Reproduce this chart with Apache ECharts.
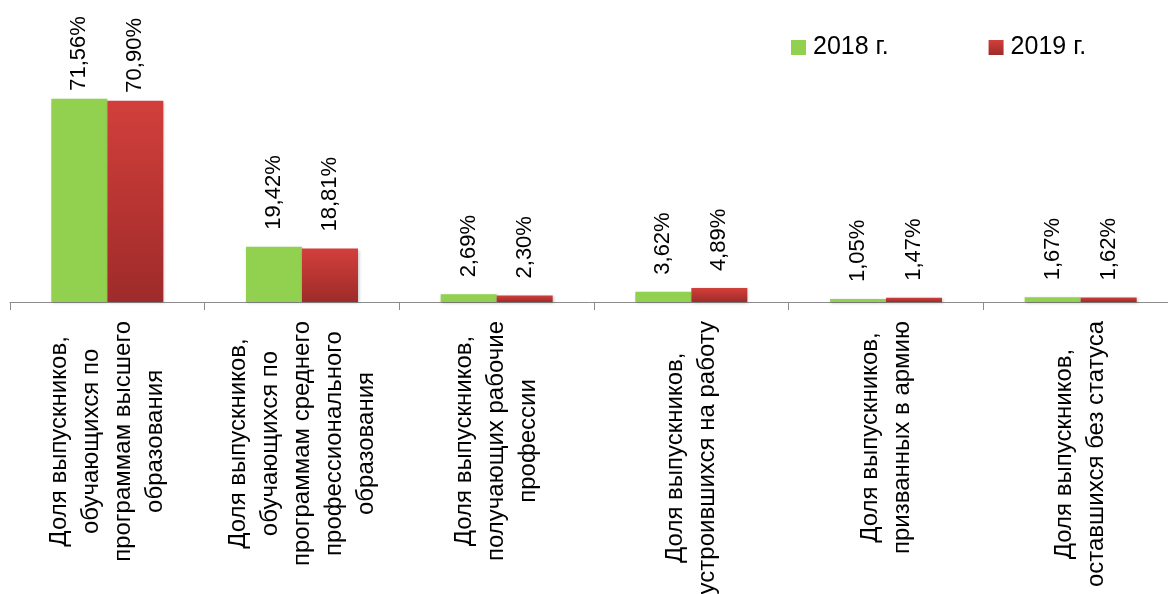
<!DOCTYPE html>
<html>
<head>
<meta charset="utf-8">
<script src="https://cdn.jsdelivr.net/npm/echarts@6/dist/echarts.min.js"></script>
<style>
    html, body { margin: 0; padding: 0; background: #fff; }
    #chart { width: 1168px; height: 594px; }
</style>
</head>
<body>
<div id="chart"></div>
<script>
    // данные
    var categories = [
        'Доля выпускников,\nобучающихся по\nпрограммам высшего\nобразования',
        'Доля выпускников,\nобучающихся по\nпрограммам среднего\nпрофессионального\nобразования',
        'Доля выпускников,\nполучающих рабочие\nпрофессии',
        'Доля выпускников,\nустроившихся на работу',
        'Доля выпускников,\nпризванных в армию',
        'Доля выпускников,\nоставшихся без статуса'
    ]
    var values2018 = [71.56, 19.42, 2.69, 3.62, 1.05, 1.67]
    var values2019 = [70.90, 18.81, 2.30, 4.89, 1.47, 1.62]
    var seriesNames = ['2018 г.', '2019 г.']

    var font = '"Liberation Sans", Arial, sans-serif'

    function pct(p) {
        return p.value.toFixed(2).replace('.', ',') + '%'
    }

    // первая группа упирается в верх, подпись ближе к столбцу
    function withLabels(arr) {
        return arr.map(function (v, i) {
            return i === 0 ? { value: v, label: { distance: 8 } } : v
        })
    }

    var myChart = echarts.init(document.getElementById('chart'))

    var barLabel = {
        show: true,
        position: 'top',
        rotate: 90,
        align: 'left',
        verticalAlign: 'middle',
        distance: 17,
        fontSize: 22,
        fontFamily: font,
        color: '#000',
        formatter: pct
    }

    var option = {
        animation: false,
        legend: {
            left: 791,
            top: 35,
            padding: 0,
            itemWidth: 15,
            itemHeight: 15,
            itemGap: 100,
            icon: 'rect',
            textStyle: { fontSize: 25, fontFamily: font, color: '#000', padding: [0, 0, 0, 2] },
            data: seriesNames
        },
        grid: { left: 10, width: 1168, top: 18, bottom: 292, outerBoundsMode: 'none' },
        xAxis: {
            type: 'category',
            data: categories,
            axisLine: { lineStyle: { color: '#8c8c8c', width: 1 } },
            axisTick: { show: true, length: 8, lineStyle: { color: '#8c8c8c' } },
            axisLabel: {
                interval: 0,
                rotate: 90,
                margin: 19,
                formatter: function (v) {
                    return v.split('\n').map(function (s) { return '{c|' + s + '}' }).join('\n')
                },
                rich: {
                    c: { align: 'center', fontSize: 24, lineHeight: 32, fontFamily: font, color: '#000' }
                }
            }
        },
        yAxis: {
            type: 'value',
            min: 0,
            max: 100,
            show: false,
            splitLine: { show: false }
        },
        series: [
            {
                name: seriesNames[0],
                type: 'bar',
                barWidth: 56,
                barGap: '0%',
                data: withLabels(values2018),
                itemStyle: {
                    color: '#92d050',
                    shadowBlur: 3,
                    shadowColor: 'rgba(0,0,0,0.25)',
                    shadowOffsetX: 1,
                    shadowOffsetY: 1
                },
                label: barLabel
            },
            {
                name: seriesNames[1],
                type: 'bar',
                barWidth: 56,
                barGap: '0%',
                data: withLabels(values2019),
                itemStyle: {
                    color: new echarts.graphic.LinearGradient(0, 0, 0, 1, [
                        { offset: 0, color: '#d23f3b' },
                        { offset: 1, color: '#9e2b2a' }
                    ]),
                    shadowBlur: 3,
                    shadowColor: 'rgba(0,0,0,0.25)',
                    shadowOffsetX: 1,
                    shadowOffsetY: 1
                },
                label: barLabel
            }
        ]
    }

    myChart.setOption(option)
</script>
</body>
</html>
